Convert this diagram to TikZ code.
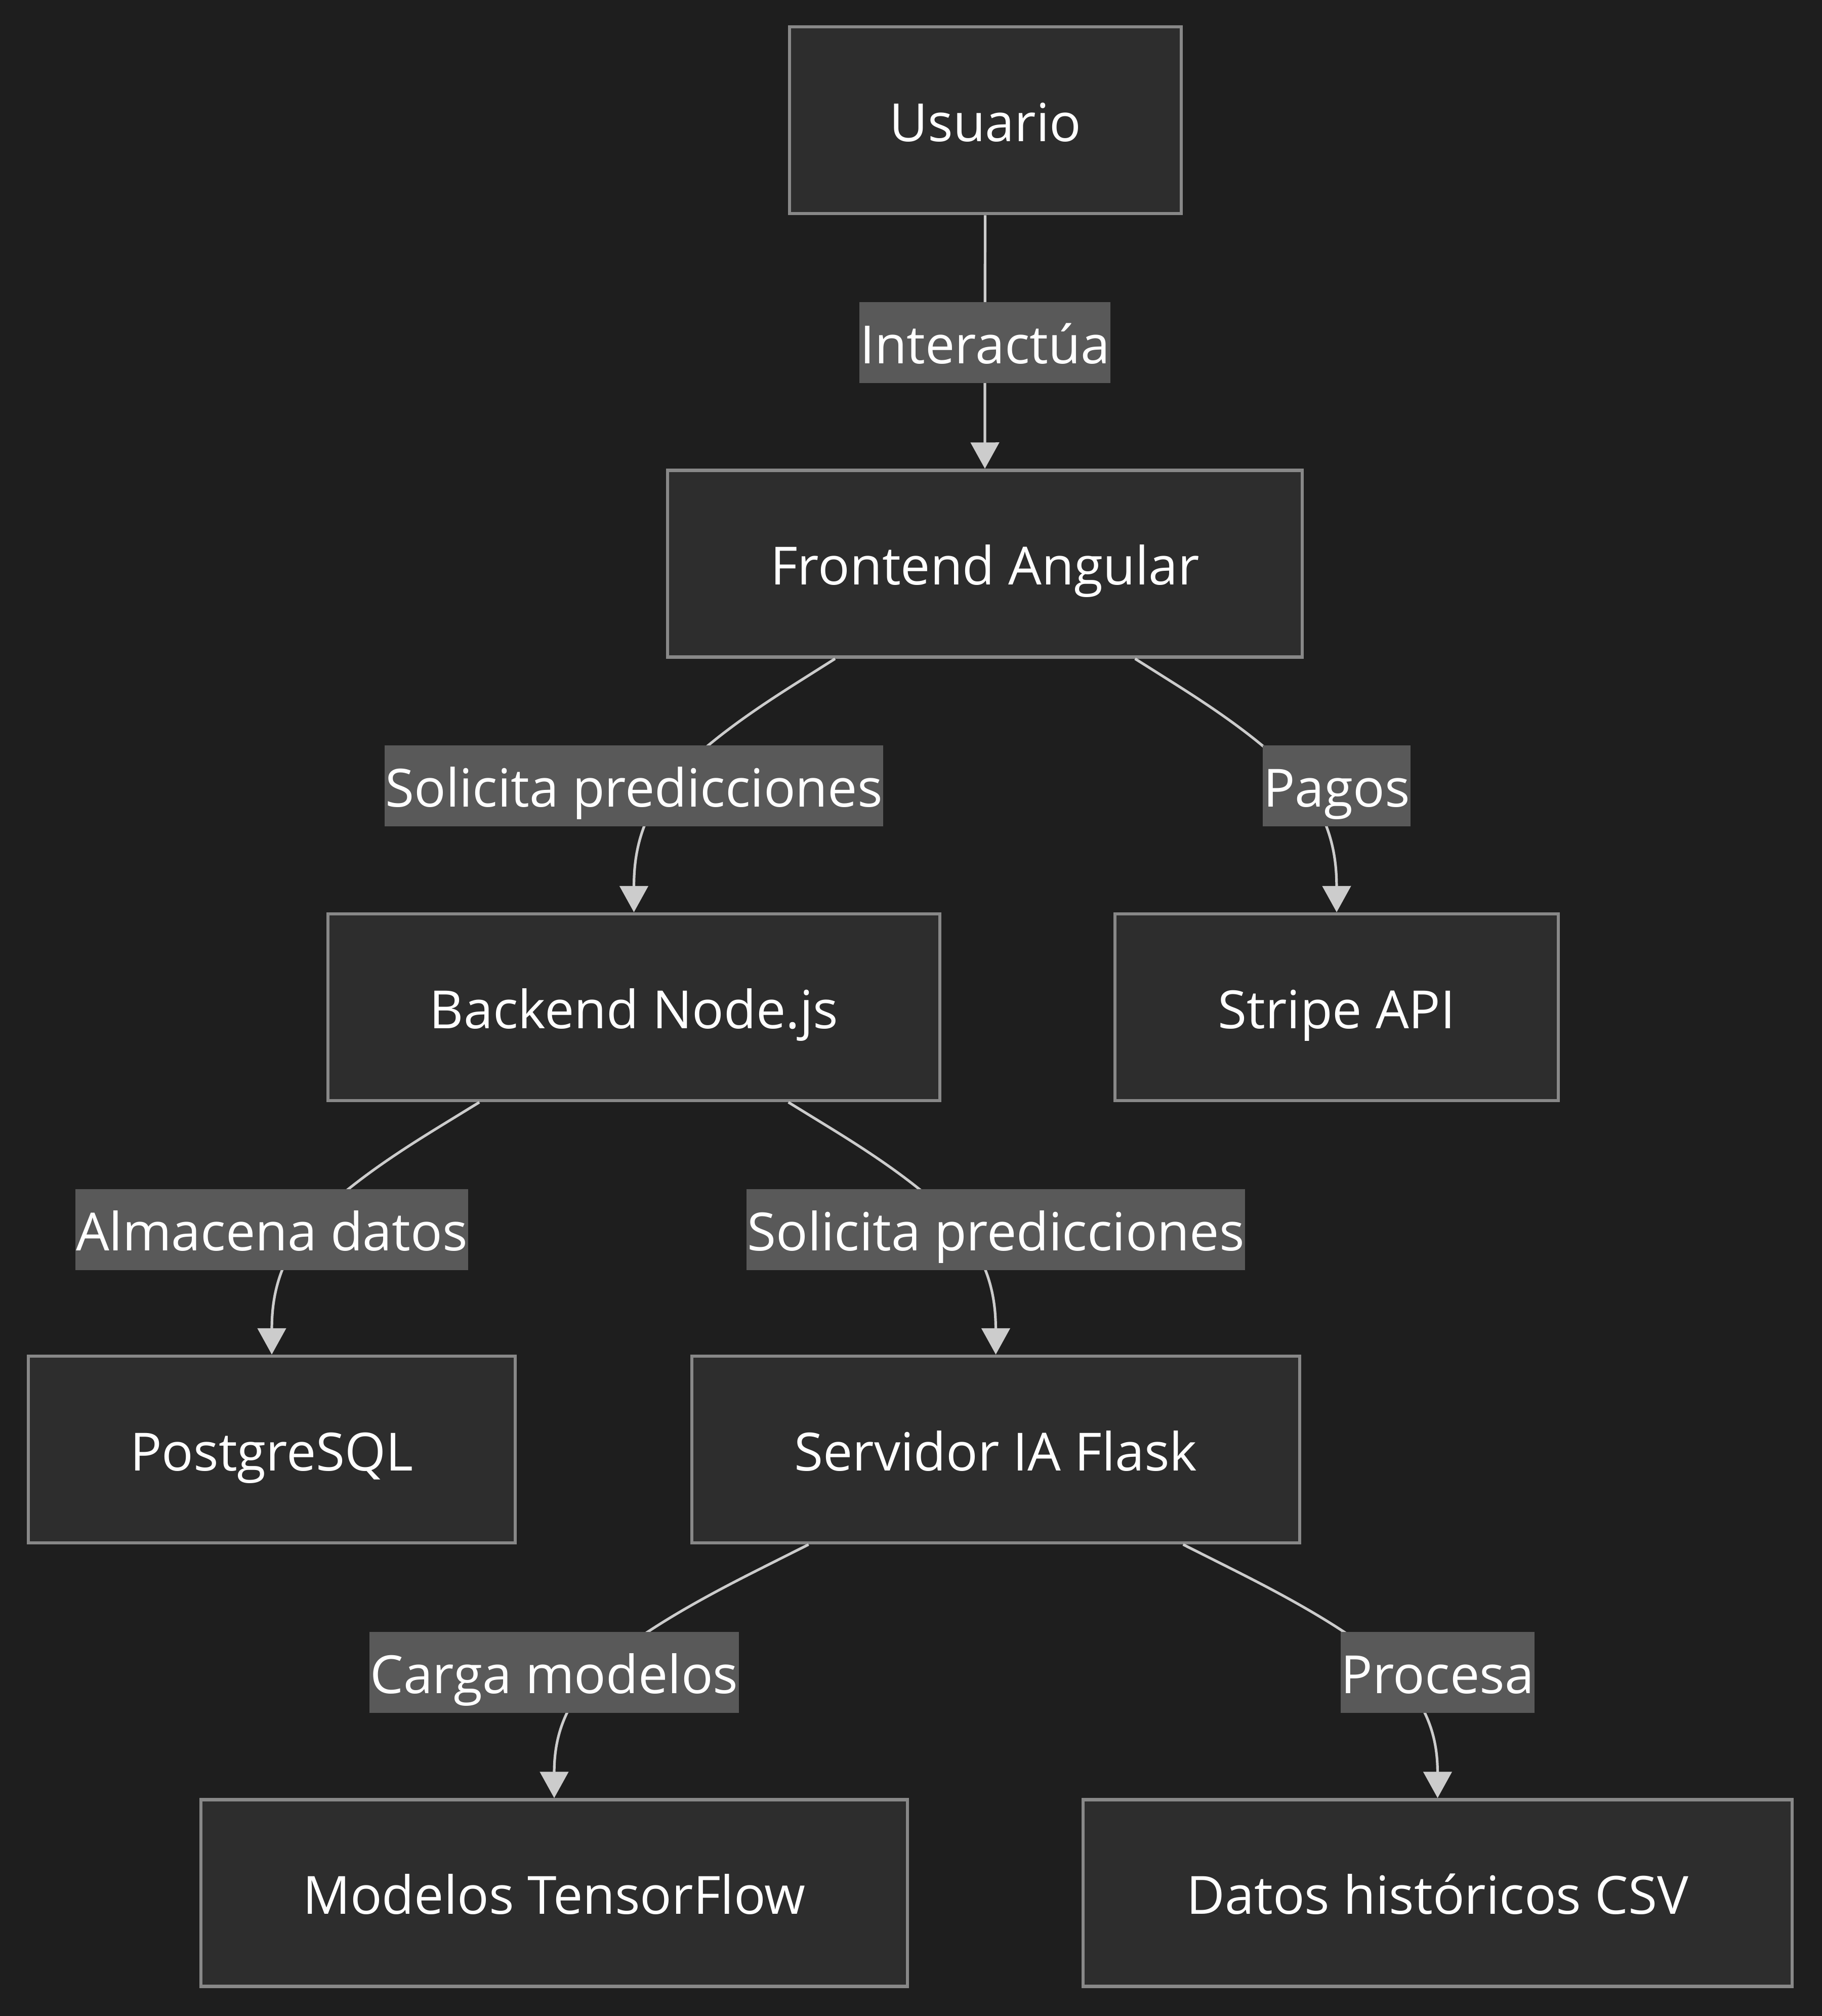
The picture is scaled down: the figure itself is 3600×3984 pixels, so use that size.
\documentclass[tikz,border=0pt]{standalone}
\usepackage{fontspec}
\setmainfont{Open Sans}
\usetikzlibrary{arrows.meta,calc}
\definecolor{bgc}{HTML}{1E1E1E}
\definecolor{nodefill}{HTML}{2D2D2D}
\definecolor{nodeborder}{HTML}{888888}
\definecolor{edgec}{HTML}{CCCCCC}
\definecolor{lblfill}{HTML}{595959}
\newcommand\mmfont{\fontsize{104}{124}\selectfont}
% #1 parent node, #2 label coordinate, #3 child node
\newcommand\mmedge[3]{%
  \path (#1) -- node[coordinate,pos=0] (s-#1-#3) {} (#2);
  \draw[edgeline] (s-#1-#3) -- ($5/6*(s-#1-#3)+1/6*(#2)$)
    .. controls ($2/3*(s-#1-#3)+1/3*(#2)$) and ($1/3*(s-#1-#3)+2/3*(#2)$)
    .. ($1/6*(s-#1-#3)+2/3*(#2)+1/6*(#3.north)$)
    .. controls ($2/3*(#2)+1/3*(#3.north)$) and ($1/3*(#2)+2/3*(#3.north)$)
    .. ($1/6*(#2)+5/6*(#3.north)$) -- (#3.north);}
\begin{document}
\begin{tikzpicture}[x=1pt,y=-1pt,
  box/.style={draw=nodeborder, line width=6.5pt, fill=nodefill, text=white,
    minimum height=369pt, inner sep=0pt, font=\mmfont, text height=83pt, text depth=0pt},
  lbl/.style={fill=lblfill, text=white, inner xsep=1pt, inner ysep=0pt,
    minimum height=160pt, font=\mmfont, text height=83pt, text depth=0pt},
  edgeline/.style={draw=edgec, line width=5.2pt, -{Triangle[width=56pt,length=52pt]}}]
\fill[bgc] (0,0) rectangle (3600,3984);

\node[box, minimum width=774pt]  (usr) at (1947,237.5)  {Usuario};
\node[box, minimum width=1254pt] (fe)  at (1946,1114)   {Frontend Angular};
\node[box, minimum width=1209pt] (be)  at (1252.5,1990.5) {Backend Node.js};
\node[box, minimum width=876pt]  (st)  at (2641,1990.5) {Stripe API};
\node[box, minimum width=962pt]  (pg)  at (537,2864.5)  {PostgreSQL};
\node[box, minimum width=1201pt] (srv) at (1967.5,2864.5) {Servidor IA Flask};
\node[box, minimum width=1396pt] (tf)  at (1095,3741)   {Modelos TensorFlow};
\node[box, minimum width=1401pt] (csv) at (2840.5,3741) {Datos históricos CSV};

\coordinate (c1) at (fe |- 0,677);
\coordinate (c2) at (be |- 0,1553);
\coordinate (c3) at (st |- 0,1553);
\coordinate (c4) at (pg |- 0,2430);
\coordinate (c5) at (srv |- 0,2430);
\coordinate (c6) at (tf |- 0,3305);
\coordinate (c7) at (csv |- 0,3305);

\mmedge{usr}{c1}{fe}
\mmedge{fe}{c2}{be}
\mmedge{fe}{c3}{st}
\mmedge{be}{c4}{pg}
\mmedge{be}{c5}{srv}
\mmedge{srv}{c6}{tf}
\mmedge{srv}{c7}{csv}

\node[lbl] (l1) at (c1) {Interactúa};
\node[lbl] (l2) at (c2) {Solicita predicciones};
\node[lbl] (l3) at (c3) {Pagos};
\node[lbl] (l4) at (c4) {Almacena datos};
\node[lbl] (l5) at (c5) {Solicita predicciones};
\node[lbl] (l6) at (c6) {Carga modelos};
\node[lbl] (l7) at (c7) {Procesa};
\end{tikzpicture}
\end{document}
